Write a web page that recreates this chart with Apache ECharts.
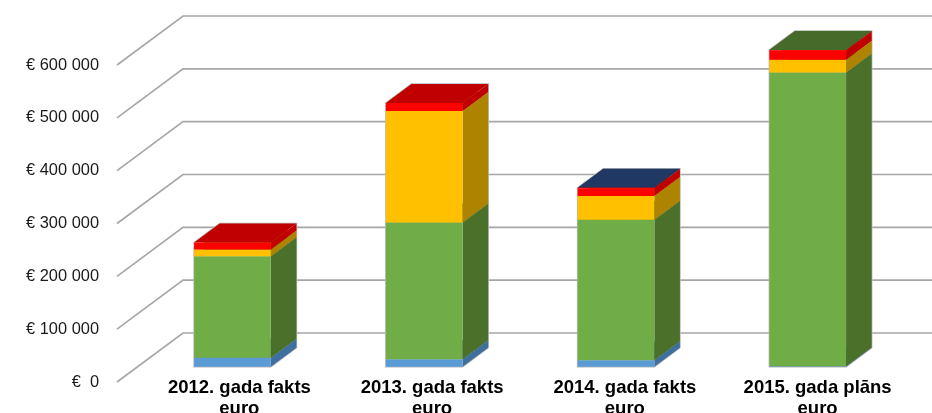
<!DOCTYPE html>
<html>
<head>
<meta charset="utf-8">
<style>html,body{margin:0;padding:0;background:#fff}#c{width:932px;height:413px}</style>
<script src="https://cdn.jsdelivr.net/npm/echarts@6/dist/echarts.min.js"></script>
</head>
<body>
<div id="c"></div>
<script>
const categories = ['2012. gada fakts\neuro', '2013. gada fakts\neuro', '2014. gada fakts\neuro', '2015. gada plāns\neuro'];
const ticks = [0, 100000, 200000, 300000, 400000, 500000, 600000];
const tickLabels = ['€  0', '€ 100 000', '€ 200 000', '€ 300 000', '€ 400 000', '€ 500 000', '€ 600 000'];

const blueValues   = [17000, 14000, 12000, 1000];
const greenValues  = [192000, 259000, 266000, 556000];
const yellowValues = [13000, 211000, 45000, 24000];
const redValues    = [13000, 15000, 15000, 18000];
const navyValues   = [0, 0, 500, 0];
const oliveValues  = [0, 0, 0, 500];

const layers = [
  {name: 'Zila',   values: blueValues,   front: '#5b9bd5', side: '#3f6f9e', top: '#3f6f9e'},
  {name: 'Zaļa',   values: greenValues,  front: '#70ad47', side: '#4a7029', top: '#4a7029'},
  {name: 'Dzeltena', values: yellowValues, front: '#ffc000', side: '#ad8300', top: '#ad8300'},
  {name: 'Sarkana', values: redValues,   front: '#ff0000', side: '#c00000', top: '#c00000'},
  {name: 'Tumši zila', values: navyValues, front: '#ff0000', side: '#c00000', top: '#1f3864'},
  {name: 'Olīvzaļa', values: oliveValues, front: '#ff0000', side: '#c00000', top: '#466a2a'}
];

// Oblique projection of the floor: full depth of the chart box, and the slice a bar occupies.
const DEPTH = [66, -49];
const BAR_NEAR_X = 0.297, BAR_NEAR_Y = 0.312, BAR_THICK = 0.388, BAR_WIDTH = 0.40;
const GRID_COLOR = '#a6a6a6';

function gridItem(params, api) {
  const y = api.coord([0, api.value(1)])[1];
  const x0 = params.coordSys.x, x1 = x0 + params.coordSys.width;
  return {
    type: 'polyline',
    silent: true,
    shape: {points: [[x0, y], [x0 + DEPTH[0], y + DEPTH[1]], [x1 + DEPTH[0], y + DEPTH[1]]]},
    style: {stroke: GRID_COLOR, lineWidth: 1.6, fill: 'none'}
  };
}

function boxGeometry(api) {
  const idx = api.value(0);
  const a = api.coord([idx, api.value(1)]);
  const b = api.coord([idx, api.value(2)]);
  const w = api.size([1, 0])[0] * BAR_WIDTH;
  const cx = a[0] + DEPTH[0] * BAR_NEAR_X;
  const ny = DEPTH[1] * BAR_NEAR_Y;
  return {
    L: cx - w / 2, R: cx + w / 2, w: w,
    y0: a[1] + ny, y1: b[1] + ny,
    dx: DEPTH[0] * BAR_THICK, dy: DEPTH[1] * BAR_THICK
  };
}

function haloItem(params, api) {
  const g = boxGeometry(api);
  return {
    type: 'polygon',
    shape: {points: [[g.L, g.y0], [g.R, g.y0], [g.R + g.dx, g.y0 + g.dy], [g.R + g.dx, g.y1 + g.dy], [g.L + g.dx, g.y1 + g.dy], [g.L, g.y1]]},
    style: {fill: '#fff', stroke: '#b8b8b8', lineWidth: 1.5}
  };
}

function barItem(layer) {
  return function (params, api) {
    if (api.value(3) <= 0) return {type: 'group', children: []};
    const {L, R, w, y0, y1, dx, dy} = boxGeometry(api);
    return {
      type: 'group',
      children: [
        {type: 'polygon', shape: {points: [[R, y0], [R + dx, y0 + dy], [R + dx, y1 + dy], [R, y1]]}, style: {fill: layer.side}},
        {type: 'polygon', shape: {points: [[L, y1], [R, y1], [R + dx, y1 + dy], [L + dx, y1 + dy]]}, style: {fill: layer.top}},
        {type: 'rect', shape: {x: L, y: y1, width: w, height: y0 - y1}, style: {fill: layer.front}}
      ]
    };
  };
}

const cumulative = categories.map(() => 0);
const barSeries = layers.map(layer => {
  const data = layer.values.map((v, i) => {
    const start = cumulative[i];
    cumulative[i] += v;
    return [i, start, cumulative[i], v];
  });
  return {
    type: 'custom',
    name: layer.name,
    renderItem: barItem(layer),
    encode: {x: 0, y: [1, 2]},
    data: data,
    z: 3
  };
});

const labelFont = '"Liberation Sans", Arial, sans-serif';
const chart = echarts.init(document.getElementById('c'), null, {renderer: 'canvas'});
chart.setOption({
  animation: false,
  backgroundColor: '#fff',
  grid: [
    {left: 117, right: 48, top: 65, bottom: 31, containLabel: false, outerBoundsMode: 'none'},
    // labels sit along the bars' floor line, offset and slightly wider than the front plane
    {left: 143, right: 18, top: 65, bottom: 31, containLabel: false, outerBoundsMode: 'none'}
  ],
  xAxis: [{
    type: 'category',
    data: categories,
    axisLine: {show: false},
    axisTick: {show: false},
    splitLine: {show: false},
    axisLabel: {show: false}
  }, {
    type: 'category',
    gridIndex: 1,
    data: categories,
    axisLine: {show: false},
    axisTick: {show: false},
    splitLine: {show: false},
    axisLabel: {
      margin: -5, interval: 0, hideOverlap: false,
      fontFamily: labelFont,
      fontWeight: 'bold', fontSize: 18.5, lineHeight: 21, color: '#000'
    }
  }],
  yAxis: [{
    type: 'value',
    min: 0, max: 600000, interval: 100000,
    axisLine: {show: false},
    axisTick: {show: false},
    splitLine: {show: false},
    axisLabel: {
      margin: 18,
      fontFamily: labelFont,
      fontSize: 16.4, color: '#1a1a1a',
      padding: [2, 0, 0, 0],
      formatter: v => tickLabels[ticks.indexOf(v)]
    }
  }, {
    type: 'value',
    gridIndex: 1,
    show: false,
    min: 0, max: 600000
  }],
  series: [{
    type: 'custom',
    name: 'Režģis',
    renderItem: gridItem,
    encode: {x: 0, y: 1},
    data: ticks.map(v => [0, v]),
    z: 1,
    silent: true
  }, {
    type: 'custom',
    name: 'Kontūra',
    renderItem: haloItem,
    encode: {x: 0, y: [1, 2]},
    data: cumulative.map((v, i) => [i, 0, v]),
    z: 2,
    silent: true
  }].concat(barSeries)
});
</script>
</body>
</html>
